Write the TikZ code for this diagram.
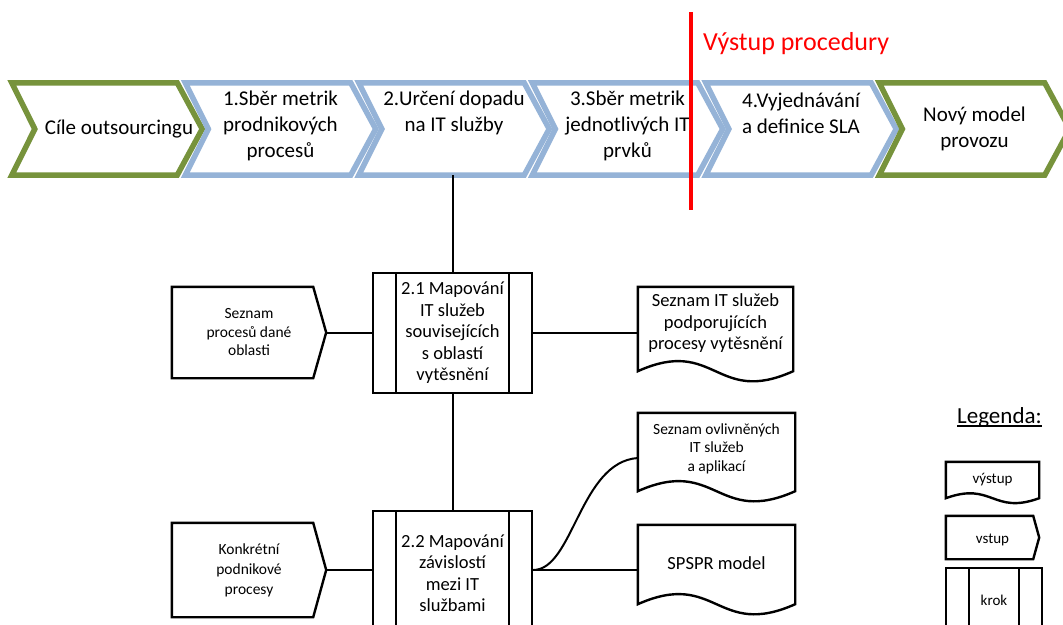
\documentclass[tikz,border=0pt]{standalone}
\usepackage{fontspec}
\setmainfont{Carlito}
\definecolor{chevgreen}{HTML}{77933C}
\definecolor{chevblue}{HTML}{95B3D7}

% outline of a process chevron around a named node
\newcommand\chevoutline[2]{%
  \draw[#2] (#1.north west) -- ([xshift=-25pt]#1.north east) -- (#1.east)
    -- ([xshift=-25pt]#1.south east) -- (#1.south west) -- ([xshift=23pt]#1.west) -- cycle;}
% outline of an input shape (flat left side, shallow point on the right)
\newcommand\inputoutline[2]{%
  \draw[outline] (#1.north west) -- ([xshift=-#2]#1.north east) -- (#1.east)
    -- ([xshift=-#2]#1.south east) -- (#1.south west) -- cycle;}
% outline of a document shape with a wavy bottom edge
\newcommand\docoutline[2]{%
  \draw[outline] (#1.north west) -- (#1.north east) -- (#1.south east)
    .. controls ([yshift=-#2]#1.south) and ([yshift=#2]#1.south) .. (#1.south west) -- cycle;}

\begin{document}
\begin{tikzpicture}[x=1pt,y=-1pt,
  chev/.style={minimum width=190pt, minimum height=92pt, inner sep=0pt},
  chevtxt/.style={align=center, inner sep=0pt, font=\fontsize{21}{26}\selectfont},
  greenchev/.style={draw=chevgreen, line width=5.5pt, line join=miter},
  bluechev/.style={draw=chevblue, line width=5.5pt, line join=miter},
  outline/.style={draw=black, line width=2.4pt, line join=miter},
  link/.style={draw=black, line width=2pt},
  stepbox/.style={rectangle, draw=black, line width=2.4pt, inner sep=0pt, align=center,
    path picture={\draw[line width=2.2pt]
      ([xshift=#1]path picture bounding box.north west) -- ([xshift=#1]path picture bounding box.south west)
      ([xshift=-#1]path picture bounding box.north east) -- ([xshift=-#1]path picture bounding box.south east);}},
  stepbox/.default=23pt,
  shapebody/.style={inner sep=0pt},
  bodytxt/.style={align=center, inner sep=0pt},
  bigtxt/.style={font=\fontsize{18.5}{21.5}\selectfont},
  smalltxt/.style={font=\fontsize{15.5}{18.5}\selectfont},
]
\clip (0,0) rectangle (1063,624);
\fill[white] (0,0) rectangle (1063,624);

% ---- procedure chevrons ----
\node[chev] (c1) at (107,129) {};
\node[chev] (c2) at (280.5,129) {};
\node[chev] (c3) at (454,129) {};
\node[chev] (c4) at (627.5,129) {};
\node[chev] (c5) at (801,129) {};
\node[chev] (c6) at (974.5,129) {};
\chevoutline{c1}{greenchev}
\chevoutline{c2}{bluechev}
\chevoutline{c3}{bluechev}
\chevoutline{c4}{bluechev}
\chevoutline{c5}{bluechev}
\chevoutline{c6}{greenchev}
\node[chevtxt, xshift=12pt] (c1t) at (c1) {Cíle outsourcingu};
\node[chevtxt, yshift=3pt] (c2t) at (c2) {1.Sběr metrik\\prodnikových\\procesů};
\node[chevtxt, yshift=16pt] (c3t) at (c3) {2.Určení dopadu\\na IT služby};
\node[chevtxt, yshift=3pt] (c4t) at (c4) {3.Sběr metrik\\jednotlivých IT\\prvků};
\node[chevtxt, yshift=16pt] (c5t) at (c5) {4.Vyjednávání\\a definice SLA};
\node[chevtxt] (c6t) at (c6) {Nový model\\provozu};

% ---- procedure output divider ----
\coordinate (rtop) at (691,12);
\coordinate (rbot) at (691,210);
\draw[red, line width=3.5pt] (rtop) -- (rbot);
\node[anchor=base west, inner sep=0pt, text=red, font=\fontsize{26}{30}\selectfont] (vyst) at (703,50) {Výstup procedury};

% ---- steps ----
\node[stepbox, bigtxt, minimum width=159pt, minimum height=120pt] (s1) at (452.5,333)
  {2.1 Mapování\\IT služeb\\souvisejících\\s oblastí\\vytěsnění};
\node[stepbox, bigtxt, minimum width=159pt, minimum height=124pt] (s2) at (452.5,573)
  {2.2 Mapování\\závislostí\\mezi IT\\službami};

% ---- inputs ----
\node[shapebody, minimum width=154pt, minimum height=91pt] (in1) at (249,332.5) {};
\inputoutline{in1}{13pt}
\node[bodytxt, smalltxt] (in1t) at (in1) {Seznam\\procesů dané\\oblasti};
\node[shapebody, minimum width=154pt, minimum height=94pt] (in2) at (249,570) {};
\inputoutline{in2}{13pt}
\node[bodytxt, smalltxt, font=\fontsize{15.5}{20}\selectfont] (in2t) at (in2) {Konkrétní\\podnikové\\procesy};

% ---- outputs ----
\node[shapebody, minimum width=155pt, minimum height=84pt] (d1) at (715.5,329) {};
\docoutline{d1}{35pt}
\node[bodytxt, bigtxt, yshift=5.5pt] (d1t) at (d1) {Seznam IT služeb\\podporujících\\procesy vytěsnění};
\node[shapebody, minimum width=157pt, minimum height=78pt] (d2) at (716.5,452) {};
\docoutline{d2}{35pt}
\node[bodytxt, smalltxt, yshift=3.5pt] (d2t) at (d2) {Seznam ovlivněných\\IT služeb\\a aplikací};
\node[shapebody, minimum width=157pt, minimum height=79pt] (d3) at (716.5,564.5) {};
\docoutline{d3}{35pt}
\node[bodytxt, bigtxt, yshift=1.5pt] (d3t) at (d3) {SPSPR model};

% ---- connectors ----
\draw[link] (c3.south -| s1.north) -- (s1.north);
\draw[link] (in1.east) -- (in1.east -| s1.west);
\draw[link] (s1.east) -- (s1.east -| d1.west);
\draw[link] (s1.south) -- (s2.north);
\draw[link] (in2.east) -- (in2.east -| s2.west);
\coordinate (j2) at (s2.east |- in2.east);
\draw[link] (j2) -- (j2 -| d3.west);
\draw[link] (j2) .. controls +(40,0) and +(-58,4) .. ([yshift=-6pt]d2.west);

% ---- legend ----
\node[anchor=base west, inner sep=0pt, font=\fontsize{23}{27}\selectfont] (leg) at (957,423) {Legenda:};
\draw[line width=1.4pt] ([yshift=-3pt]leg.base west) -- ([yshift=-3pt]leg.base east);
\node[shapebody, minimum width=93pt, minimum height=36pt] (lgout) at (992.5,480) {};
\docoutline{lgout}{17pt}
\node[bodytxt, font=\fontsize{15}{18}\selectfont] (lgoutt) at (lgout) {výstup};
\node[shapebody, minimum width=93pt, minimum height=43pt] (lgin) at (992.5,537.5) {};
\inputoutline{lgin}{6pt}
\node[bodytxt, font=\fontsize{15}{18}\selectfont, yshift=-2pt] (lgint) at (lgin) {vstup};
\node[stepbox, font=\fontsize{15}{18}\selectfont, minimum width=96pt, minimum height=64pt] (lgstep) at (994,600) {krok};
\end{tikzpicture}
\end{document}
